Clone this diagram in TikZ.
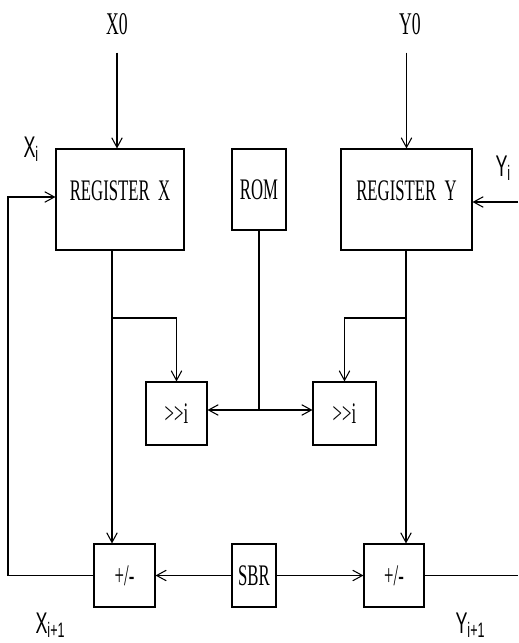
\documentclass[tikz,border=0pt]{standalone}
\usepackage{fontspec}
\setmainfont{Liberation Serif}[FakeStretch=0.56]
\newfontfamily\sigfont{Liberation Sans}[FakeStretch=0.6]
\usetikzlibrary{arrows.meta}

\begin{document}
\begin{tikzpicture}[x=0.02cm,y=-0.02cm,line width=.6pt,font=\fontsize{17}{20}\selectfont,
  blk/.style={draw=black,inner sep=0pt},
  regtext/.style={text depth=.34cm},
  sig/.style={inner sep=0pt,anchor=base west,font=\sigfont\fontsize{17}{20}\selectfont},
  top/.style={inner sep=0pt,font=\fontsize{18}{20}\selectfont},
  arr/.style={-{Straight Barb[length=5.5pt,width=6pt]}}]
\useasboundingbox (0,0) rectangle (518,643);
\node[blk,regtext,minimum width=2.56cm,minimum height=2.02cm] (regx) at (120,199.5) {REGISTER~~X};
\node[blk,minimum width=1.08cm,minimum height=1.62cm] (rom) at (259,189.5) {ROM};
\node[blk,regtext,minimum width=2.62cm,minimum height=2.02cm] (regy) at (406.5,199.5) {REGISTER~~Y};
\node[blk,minimum width=1.22cm,minimum height=1.26cm] (shx) at (176.5,413.5) {>{}>i};
\node[blk,minimum width=1.26cm,minimum height=1.26cm] (shy) at (344.5,413.5) {>{}>i};
\node[blk,minimum width=1.22cm,minimum height=1.26cm] (addx) at (124.5,575.5) {+/-};
\node[blk,minimum width=.88cm,minimum height=1.26cm] (sbr) at (254,575.5) {SBR};
\node[blk,minimum width=1.2cm,minimum height=1.26cm] (addy) at (394,575.5) {+/-};
\node[top] (x0) at (117,24.5) {X0};
\node[top] (y0) at (410,24.5) {Y0};
\node[sig] (xi) at (23,157) {X\textsubscript{i}};
\node[sig] (yi) at (495,176) {Y\textsubscript{i}};
\node[sig] (xo) at (35,633) {X\textsubscript{i+1}};
\node[sig] (yo) at (455,633) {Y\textsubscript{i+1}};
\coordinate (xsplit) at (112,318);
\coordinate (ysplit) at (406,318);
\coordinate (romsplit) at (259,410);
\coordinate (yin) at (518,202);
\coordinate (yout) at (518,575.5);
\coordinate (fb) at (8,197);
\draw[arr,shorten <=.34cm] (x0.south) -- (x0.south |- regx.north);
\draw[arr,shorten <=.34cm] (regy.north |- y0.south) -- (regy.north);
\draw[arr] (yin) -- (yin -| regy.east);
\draw[arr] (xsplit |- regx.south) -- (xsplit |- addx.north);
\draw[arr] (xsplit) -| (shx.north);
\draw[arr] (ysplit |- regy.south) -- (ysplit |- addy.north);
\draw[arr] (ysplit) -| (shy.north);
\draw (rom.south) -- (romsplit);
\draw[arr] (romsplit) -- (romsplit -| shx.east);
\draw[arr] (romsplit) -- (romsplit -| shy.west);
\draw[arr] (sbr.west) -- (addx.east);
\draw[arr] (sbr.east) -- (addy.west);
\draw[arr] (addx.west) -| (fb) -- (fb -| regx.west);
\draw (addy.east) -- (yout);
\end{tikzpicture}
\end{document}
